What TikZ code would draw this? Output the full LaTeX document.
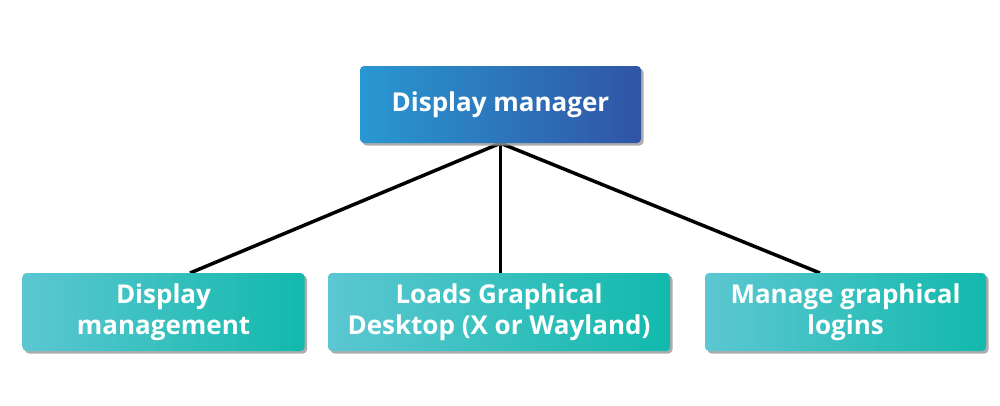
\documentclass[tikz,border=0pt]{standalone}
\usepackage{fontspec}
\setmainfont{Open Sans}
\usetikzlibrary{shadows,backgrounds}
\definecolor{topL}{RGB}{41,152,210}
\definecolor{topR}{RGB}{48,84,166}
\definecolor{botL}{RGB}{92,199,209}
\definecolor{botR}{RGB}{18,185,172}
\tikzset{
  box/.style={rounded corners=4pt, inner sep=0pt, align=center, text=white,
    font=\fontsize{26}{31}\selectfont\bfseries,
    drop shadow={shadow xshift=2.5pt, shadow yshift=-2.5pt, fill=black!40, opacity=0.8}},
  topbox/.style={box, left color=topL, right color=topR, minimum width=281pt, minimum height=77pt},
  botbox/.style={box, left color=botL, right color=botR, minimum height=78pt},
  link/.style={line width=3.5pt, black}
}
\begin{document}
\begin{tikzpicture}[x=1pt,y=-1pt]
\useasboundingbox (0,0) rectangle (1000,405);
\coordinate (e1) at (190,273);
\coordinate (e3) at (820,273);
\node[topbox] (top) at (500.5,104.5) {Display manager};
\node[botbox, minimum width=282pt] (b1) at (163.5,312) {Display\\management};
\node[botbox, minimum width=342pt] (b2) at (499,312) {Loads Graphical\\Desktop (X or Wayland)};
\node[botbox, minimum width=281pt] (b3) at (845.5,312) {Manage graphical\\logins};
\begin{scope}[on background layer]
\draw[link] (top.south) -- (e1);
\draw[link] (top.south) -- (b2.north -| top.south);
\draw[link] (top.south) -- (e3);
\end{scope}
\end{tikzpicture}
\end{document}
